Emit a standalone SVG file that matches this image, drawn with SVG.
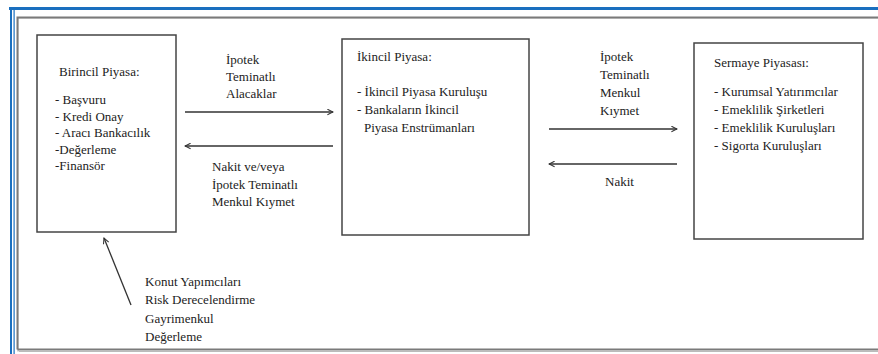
<svg xmlns="http://www.w3.org/2000/svg" width="878" height="354" viewBox="0 0 878 354">
<style>
text{font-family:"Liberation Serif",serif;font-size:13px;fill:#222}
.box{fill:#fff;stroke:#444;stroke-width:1.5}
.c{stroke:#333;stroke-width:1.3;fill:none}
</style>
<defs>
<marker id="ah" viewBox="0 0 10 10" refX="9" refY="5" markerWidth="7" markerHeight="7" markerUnits="userSpaceOnUse" orient="auto">
<path d="M1,1 L9,5 L1,9" fill="none" stroke="#333" stroke-width="1.5"/>
</marker>
</defs>
<rect width="878" height="354" fill="#fff"/>
<g id="frame">
<rect x="9" y="7" width="869" height="3" fill="#1a6fbf"/>
<rect x="10" y="7" width="2" height="347" fill="#1a6fbf"/>
<rect x="13.5" y="10" width="1.2" height="344" fill="#1a6fbf"/>
<path d="M18,352 V18 H878" fill="none" stroke="#c8c8c8" stroke-width="1"/>
<path d="M17.5,349.5 V17.5 H878 M17.5,349.5 H878" fill="none" stroke="#7a7a7a" stroke-width="2"/>
<path d="M19,351.5 H878" stroke="#bbb" stroke-width="1"/>
</g>
<g id="birincil">
<rect class="box" x="37" y="35" width="139" height="197"/>
<text x="59" y="76">Birincil Piyasa:</text>
<text x="55" y="104">- Başvuru</text>
<text x="55" y="120.5">- Kredi Onay</text>
<text x="55" y="137">- Aracı Bankacılık</text>
<text x="55" y="153.5">-Değerleme</text>
<text x="55" y="170">-Finansör</text>
</g>
<g id="ikincil">
<rect class="box" x="342" y="39" width="187" height="196"/>
<text x="357" y="61">İkincil Piyasa:</text>
<text x="357" y="96">- İkincil Piyasa Kuruluşu</text>
<text x="357" y="114">- Bankaların İkincil</text>
<text x="364" y="132">Piyasa Enstrümanları</text>
</g>
<g id="sermaye">
<rect class="box" x="694" y="43" width="169" height="196"/>
<text x="714" y="67">Sermaye Piyasası:</text>
<text x="714" y="96">- Kurumsal Yatırımcılar</text>
<text x="714" y="113.5">- Emeklilik Şirketleri</text>
<text x="714" y="131.5">- Emeklilik Kuruluşları</text>
<text x="714" y="150">- Sigorta Kuruluşları</text>
</g>
<g id="connectors">
<line class="c" x1="185" y1="112" x2="333" y2="112" marker-end="url(#ah)"/>
<line class="c" x1="333" y1="146" x2="185" y2="146" marker-end="url(#ah)"/>
<line class="c" x1="549" y1="129" x2="677" y2="129" marker-end="url(#ah)"/>
<line class="c" x1="677" y1="164" x2="549" y2="164" marker-end="url(#ah)"/>
<line class="c" x1="131" y1="305" x2="104" y2="238" marker-end="url(#ah)"/>
</g>
<g id="labels">
<text x="226" y="64">İpotek</text>
<text x="226" y="81">Teminatlı</text>
<text x="226" y="97.5">Alacaklar</text>
<text x="212" y="171">Nakit ve/veya</text>
<text x="212" y="188.5">İpotek Teminatlı</text>
<text x="212" y="206">Menkul Kıymet</text>
<text x="600" y="61">İpotek</text>
<text x="600" y="79">Teminatlı</text>
<text x="600" y="97">Menkul</text>
<text x="600" y="115">Kıymet</text>
<text x="605" y="186">Nakit</text>
<text x="145" y="286">Konut Yapımcıları</text>
<text x="145" y="304">Risk Derecelendirme</text>
<text x="145" y="323">Gayrimenkul</text>
<text x="145" y="341">Değerleme</text>
</g>
</svg>
